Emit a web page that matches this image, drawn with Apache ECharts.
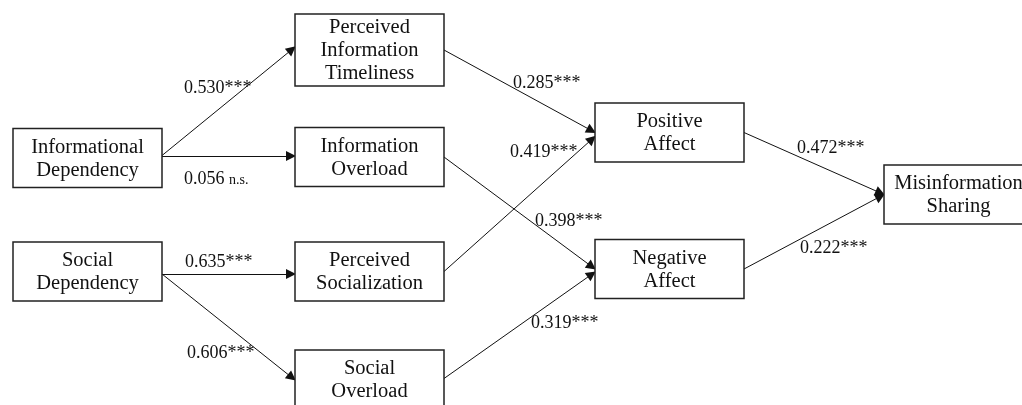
<!DOCTYPE html>
<html>
<head>
<meta charset="utf-8">
<script src="https://cdn.jsdelivr.net/npm/echarts@6/dist/echarts.min.js"></script>
<style>html,body{margin:0;padding:0;background:#fff;}#c{width:1022px;height:405px;}</style>
</head>
<body>
<div id="c"></div>
<script>
// Diagram content
var nodeNames = ['Informational\nDependency','Perceived\nInformation\nTimeliness','Information\nOverload','Social\nDependency','Perceived\nSocialization','Social\nOverload','Positive\nAffect','Negative\nAffect','Misinformation\nSharing'];
var nodeX = [87.5, 369.5, 369.5, 87.5, 369.5, 369.5, 669.5, 669.5, 958.5];
var nodeY = [158, 50, 157, 271.5, 271.5, 379.5, 132.5, 269, 194.5];
var edgeSource = [0, 0, 3, 3, 1, 4, 2, 5, 6, 7];
var edgeTarget = [1, 2, 4, 5, 6, 6, 7, 7, 8, 8];
var edgeCoef = ['0.530','0.056','0.635','0.606','0.285','0.419','0.398','0.319','0.472','0.222'];
var edgeSig = ['***','n.s.','***','***','***','***','***','***','***','***'];
var labelX = [184, 184, 185, 187, 513, 510, 535, 531, 797, 800];
var labelY = [88, 179, 262, 353, 83, 152, 221, 323, 148, 248];

// styles
var BOX_W = 149;
function boxH(i){ return nodeNames[i].split('\n').length === 3 ? 72 : 59; }
var startDy = [-2.5, -2, 2.5, 2.5, 0, 0, 0, -1, 0, 0];
var endDy = [-3, -1, 2.5, 0.5, 0, 4, 0, 3, 0, 0];

var chart = echarts.init(document.getElementById('c'));

var boxData = nodeNames.map(function(n,i){ return [nodeX[i], nodeY[i], i]; });

var lineData = edgeSource.map(function(s,k){
  var t = edgeTarget[k];
  var x1 = nodeX[s] + BOX_W/2, y1 = nodeY[s] + startDy[k];
  var x2 = nodeX[t] - BOX_W/2, y2 = nodeY[t] + endDy[k];
  var dx = x2-x1, dy = y2-y1, L = Math.sqrt(dx*dx+dy*dy);
  var back = 4;
  return {coords: [[x1,y1],[x2 - dx/L*back, y2 - dy/L*back]]};
});

var labelData = edgeCoef.map(function(c,k){ return [labelX[k], labelY[k], k]; });

chart.setOption({
  backgroundColor: '#ffffff',
  animation: false,
  grid: {left:0, right:0, top:0, bottom:0},
  xAxis: {type:'value', min:0, max:1022, show:false},
  yAxis: {type:'value', min:0, max:405, inverse:true, show:false},
  series: [
    {
      type: 'lines',
      coordinateSystem: 'cartesian2d',
      symbol: ['none','triangle'],
      symbolSize: [8, 10],
      lineStyle: {color:'#111', width:1, opacity:1},
      data: lineData,
      z: 1
    },
    {
      type: 'custom',
      coordinateSystem: 'cartesian2d',
      data: boxData,
      z: 3,
      renderItem: function(params, api){
        var i = api.value(2);
        var c = api.coord([api.value(0), api.value(1)]);
        var sz = api.size([BOX_W, boxH(i)]);
        return {
          type: 'group',
          children: [
            {type:'rect', shape:{x:c[0]-sz[0]/2, y:c[1]-sz[1]/2, width:sz[0], height:sz[1]},
             style:{fill:'#fff', stroke:'#222', lineWidth:1.5}},
            {type:'text', x:c[0], y:c[1]+1,
             style:{text:nodeNames[i], fill:'#111', font:'20.5px "Liberation Serif"', lineHeight:23,
                    align:'center', verticalAlign:'middle'}}
          ]
        };
      }
    },
    {
      type: 'custom',
      coordinateSystem: 'cartesian2d',
      data: labelData,
      z: 4,
      renderItem: function(params, api){
        var k = api.value(2);
        var c = api.coord([api.value(0), api.value(1)]);
        var sig = edgeSig[k];
        var txt = sig === 'n.s.' ? '{a|' + edgeCoef[k] + ' }{b|' + sig + '}' : '{a|' + edgeCoef[k] + sig + '}';
        return {
          type:'text', x:c[0], y:c[1],
          style:{text:txt, align:'left', verticalAlign:'middle',
                 rich:{a:{font:'18px "Liberation Serif"', fill:'#111'},
                       b:{font:'14px "Liberation Serif"', fill:'#111', padding:[3,0,0,0]}}}
        };
      }
    }
  ]
});
</script>
</body>
</html>
